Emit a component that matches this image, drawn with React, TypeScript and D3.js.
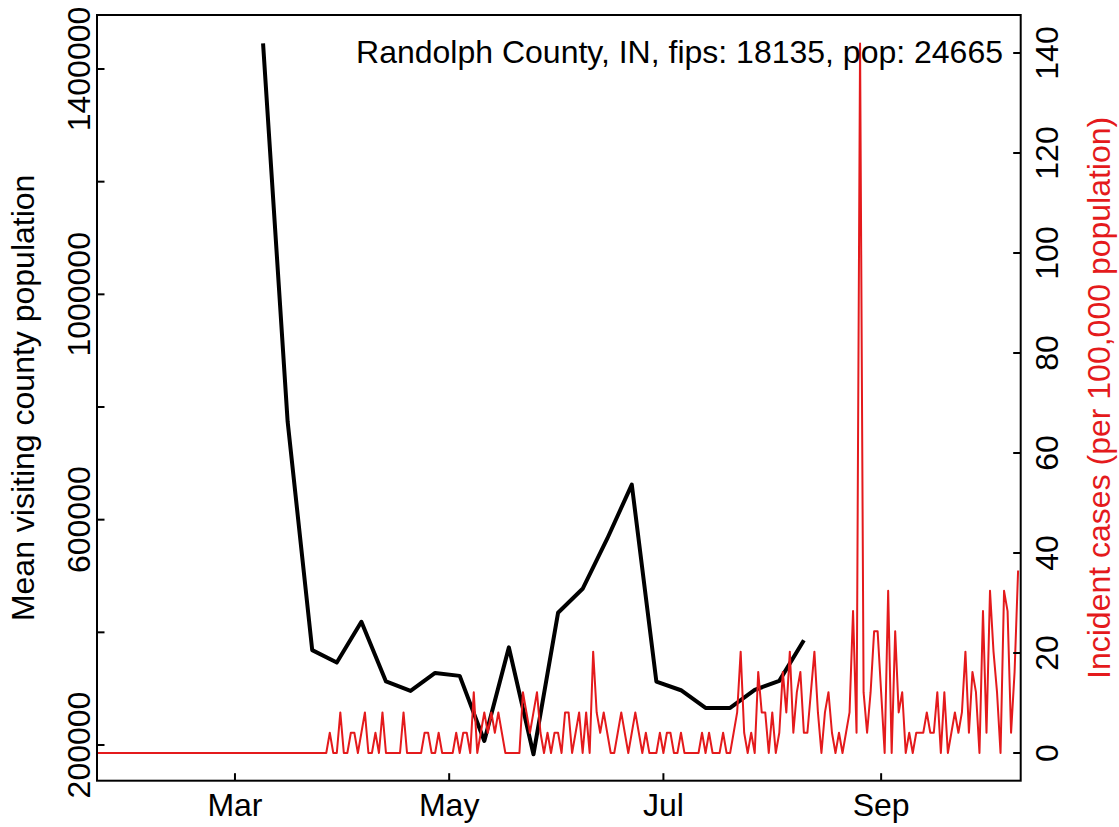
import React from 'react';
import * as d3 from 'd3';

// ---------- data ----------
const title = 'Randolph County, IN, fips: 18135, pop: 24665';
const leftAxisTitle = 'Mean visiting county population';
const rightAxisTitle = 'Incident cases (per 100,000 population)';

// daily incident cases per 100,000 population, starting 2020-01-22
const incidentStart = '2020-01-22';
const incidentPer100k = [
  0, 0, 0, 0, 0, 0, 0, 0, 0, 0,
  0, 0, 0, 0, 0, 0, 0, 0, 0, 0,
  0, 0, 0, 0, 0, 0, 0, 0, 0, 0,
  0, 0, 0, 0, 0, 0, 0, 0, 0, 0,
  0, 0, 0, 0, 0, 0, 0, 0, 0, 0,
  0, 0, 0, 0, 0, 0, 0, 0, 0, 0,
  0, 0, 0, 0, 0, 0, 4.05, 0, 0, 8.11,
  0, 0, 4.05, 4.05, 0, 4.05, 8.11, 0, 0, 4.05,
  0, 8.11, 0, 0, 0, 0, 0, 8.11, 0, 0,
  0, 0, 0, 4.05, 4.05, 0, 0, 4.05, 0, 0,
  0, 0, 4.05, 0, 4.05, 4.05, 0, 12.16, 0, 4.05,
  8.11, 4.05, 8.11, 4.05, 8.11, 4.05, 0, 0, 0, 0,
  0, 12.16, 8.11, 4.05, 8.11, 12.16, 4.05, 0, 4.05, 0,
  4.05, 4.05, 0, 8.11, 8.11, 0, 4.05, 8.11, 0, 8.11,
  0, 20.27, 8.11, 4.05, 8.11, 4.05, 0, 0, 4.05, 8.11,
  4.05, 0, 4.05, 8.11, 4.05, 0, 4.05, 0, 0, 0,
  4.05, 0, 4.05, 4.05, 0, 0, 4.05, 0, 0, 0,
  0, 0, 4.05, 0, 4.05, 0, 0, 0, 4.05, 0,
  0, 4.05, 8.11, 20.27, 4.05, 0, 4.05, 0, 16.22, 8.11,
  8.11, 0, 8.11, 0, 4.05, 16.22, 8.11, 20.27, 4.05, 12.16,
  16.22, 4.05, 4.05, 12.16, 20.27, 8.11, 0, 8.11, 12.16, 4.05,
  0, 4.05, 0, 4.05, 8.11, 28.38, 4.05, 141.9, 12.16, 4.05,
  12.16, 24.33, 24.33, 12.16, 0, 32.43, 0, 24.33, 8.11, 12.16,
  0, 4.05, 0, 4.05, 4.05, 4.05, 8.11, 4.05, 4.05, 12.16,
  0, 12.16, 0, 4.05, 8.11, 4.05, 8.11, 20.27, 4.05, 16.22,
  12.16, 0, 28.38, 4.05, 32.43, 20.27, 12.16, 0, 32.43, 28.38,
  4.05, 16.22, 36.49,
];

// weekly mean visiting county population
const weekDates = [
  '2020-03-09', '2020-03-16', '2020-03-23', '2020-03-30', '2020-04-06',
  '2020-04-13', '2020-04-20', '2020-04-27', '2020-05-04', '2020-05-11',
  '2020-05-18', '2020-05-25', '2020-06-01', '2020-06-08', '2020-06-15',
  '2020-06-22', '2020-06-29', '2020-07-06', '2020-07-13', '2020-07-20',
  '2020-07-27', '2020-08-03', '2020-08-10',
];
const meanVisitingPop = [
  1445500, 774200, 368400, 346300, 418700,
  312900, 296000, 328000, 322700, 207100,
  373300, 183500, 434700, 477300, 566200,
  662200, 312500, 297200, 265800, 265800,
  297800, 313800, 386100,
];

const leftTicks = [200000, 400000, 600000, 800000, 1000000, 1200000, 1400000];
const leftTickLabels = [200000, 600000, 1000000, 1400000];
const rightTicks = [0, 20, 40, 60, 80, 100, 120, 140];
const monthTicks = ['2020-03-01', '2020-05-01', '2020-07-01', '2020-09-01'];
const monthLabels = ['Mar', 'May', 'Jul', 'Sep'];

// ---------- layout ----------
const W = 1119;
const H = 827;
const box = { left: 97, right: 1020.7, top: 15, bottom: 780.7 };
const FONT = '"Liberation Sans", Arial, Helvetica, sans-serif';
const FS = 32;
const RED = '#e41a1c';

export default function App() {
  const parse = d3.utcParse('%Y-%m-%d');
  const start = parse(incidentStart) as Date;
  const dailyDates = incidentPer100k.map((_, i) => d3.utcDay.offset(start, i));

  const x = d3
    .scaleUtc()
    .domain([start, dailyDates[dailyDates.length - 1]])
    .range([98, 1018.1]);

  const yLeft = d3.scaleLinear().domain([200000, 1400000]).range([745, 69]);
  const yRight = d3.scaleLinear().domain([0, 140]).range([753, 53]);

  const redLine = d3
    .line<number>()
    .x((_, i) => x(dailyDates[i]))
    .y((v) => yRight(v));

  const blackLine = d3
    .line<number>()
    .x((_, i) => x(parse(weekDates[i]) as Date))
    .y((v) => yLeft(v));

  const tickLen = 7.5;

  return (
    <svg
      width={W}
      height={H}
      style={{ position: 'absolute', left: 0, top: 0, background: '#fff' }}
      fontFamily={FONT}
    >
      <rect x={0} y={0} width={W} height={H} fill="#fff" />

      {/* black weekly line */}
      <path d={blackLine(meanVisitingPop) || ''} fill="none" stroke="#000" strokeWidth={4} strokeLinejoin="round" />

      {/* red daily line */}
      <path d={redLine(incidentPer100k) || ''} fill="none" stroke={RED} strokeWidth={2} strokeLinejoin="round" />

      {/* box */}
      <rect
        x={box.left}
        y={box.top}
        width={box.right - box.left}
        height={box.bottom - box.top}
        fill="none"
        stroke="#000"
        strokeWidth={2}
      />

      {/* bottom axis */}
      {monthTicks.map((m, i) => {
        const xx = x(parse(m) as Date);
        return (
          <g key={m}>
            <line x1={xx} x2={xx} y1={box.bottom} y2={box.bottom - tickLen} stroke="#000" strokeWidth={2} />
            <text x={xx} y={816} textAnchor="middle" fontSize={FS} fill="#000">
              {monthLabels[i]}
            </text>
          </g>
        );
      })}

      {/* left axis */}
      {leftTicks.map((t) => (
        <line key={t} x1={box.left} x2={box.left + tickLen} y1={yLeft(t)} y2={yLeft(t)} stroke="#000" strokeWidth={2} />
      ))}
      {leftTickLabels.map((t) => (
        <text
          key={t}
          transform={`translate(90,${yLeft(t)}) rotate(-90)`}
          textAnchor="middle"
          fontSize={FS}
          fill="#000"
        >
          {String(t)}
        </text>
      ))}
      <text
        transform={`translate(34,${(box.top + box.bottom) / 2}) rotate(-90)`}
        textAnchor="middle"
        fontSize={FS}
        fill="#000"
      >
        {leftAxisTitle}
      </text>

      {/* right axis */}
      {rightTicks.map((t) => (
        <g key={t}>
          <line x1={box.right} x2={box.right - tickLen} y1={yRight(t)} y2={yRight(t)} stroke="#000" strokeWidth={2} />
          <text
            transform={`translate(1058,${yRight(t)}) rotate(-90)`}
            textAnchor="middle"
            fontSize={FS}
            fill="#000"
          >
            {String(t)}
          </text>
        </g>
      ))}
      <text
        transform={`translate(1110,${(box.top + box.bottom) / 2}) rotate(-90)`}
        textAnchor="middle"
        fontSize={FS}
        fill={RED}
      >
        {rightAxisTitle}
      </text>

      {/* title */}
      <text x={1003} y={63} textAnchor="end" fontSize={FS} fill="#000">
        {title}
      </text>
    </svg>
  );
}
